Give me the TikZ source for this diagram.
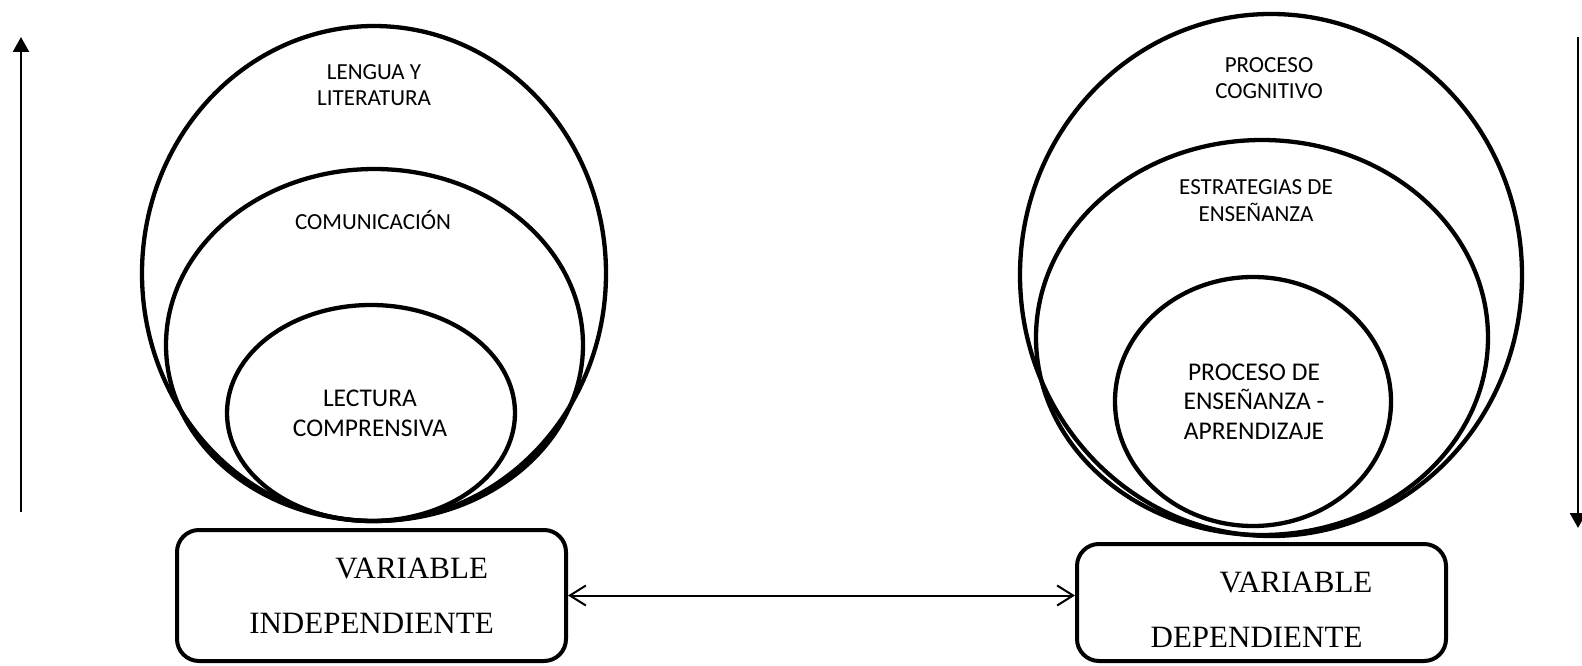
\documentclass[tikz,border=0pt]{standalone}
\usepackage{fontspec}
\setmainfont{Carlito}
\newfontfamily\boxfont{Liberation Serif}
\usetikzlibrary{arrows.meta}
\begin{document}
\begin{tikzpicture}[x=1pt,y=-1pt,
  ring/.style={line width=4.3pt},
  lbl/.style={font=\fontsize{23}{26.5}\selectfont, align=center, anchor=base, inner sep=0pt},
  lblbig/.style={font=\fontsize{25.5}{29.3}\selectfont, align=center, anchor=base, inner sep=0pt},
  varbox/.style={draw, line width=4pt, rounded corners=22pt, inner sep=0pt, align=left, font=\boxfont\fontsize{31}{55}\selectfont},
  axis/.style={line width=2.5pt, -{Triangle[length=15pt,width=16pt]}},
  link/.style={line width=2pt, {Straight Barb[length=16pt,width=20pt]}-{Straight Barb[length=16pt,width=20pt]}}]
\useasboundingbox (0,0) rectangle (1582,666);
% left nested ellipses
\draw[ring] (374,273.5) ellipse [x radius=232, y radius=247.5];
\draw[ring] (374.5,345) ellipse [x radius=208.5, y radius=176];
\draw[ring] (371,413) ellipse [x radius=144, y radius=108];
% right nested ellipses
\draw[ring] (1271,275) ellipse [x radius=251, y radius=261];
\draw[ring] (1262,337.5) ellipse [x radius=226, y radius=197.5];
\draw[ring] (1253,401.5) ellipse [x radius=138, y radius=124.5];
% labels (base = baseline of the last line)
\node[lbl] (t1) at (374,106) {LENGUA Y\\LITERATURA};
\node[lbl] (t2) at (373,229) {COMUNICACIÓN};
\node[lblbig] (t3) at (370,436) {LECTURA\\COMPRENSIVA};
\node[lbl] (t4) at (1269,99) {PROCESO\\COGNITIVO};
\node[lbl] (t5) at (1256,221) {ESTRATEGIAS DE\\ENSEÑANZA};
\node[lblbig] (t6) at (1254,439) {PROCESO DE\\ENSEÑANZA -\\APRENDIZAJE};
% boxes
\node[varbox, minimum width=389pt, minimum height=131pt] (lbox) at (371.5,595.5) {\hspace*{86pt}VARIABLE\\INDEPENDIENTE};
\node[varbox, minimum width=369pt, minimum height=117pt, text height=89.5pt, text depth=0pt] (rbox) at (1261.5,602.5) {\hspace*{69pt}VARIABLE\\DEPENDIENTE};
\draw[link] (lbox.east) -- (lbox.east -| rbox.west);
% vertical arrows
\coordinate (la0) at (21,512);
\coordinate (la1) at (21,37);
\coordinate (ra0) at (1578,37);
\coordinate (ra1) at (1578,528);
\draw[axis] (la0) -- (la1);
\draw[axis] (ra0) -- (ra1);
\end{tikzpicture}
\end{document}
